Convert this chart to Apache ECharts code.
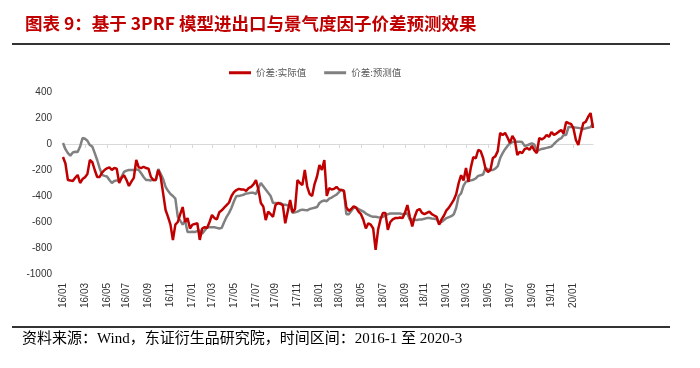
<!DOCTYPE html>
<html><head><meta charset="utf-8">
<script src="https://cdn.jsdelivr.net/npm/echarts@6/dist/echarts.min.js"></script>
<style>html,body{margin:0;padding:0;background:#fff}#c{width:700px;height:368px}</style>
</head><body><div id="c"></div>
<script>
const startDate = '2016-01-01';
const actual = [-100,-150,-277,-280,-285,-260,-238,-300,-270,-255,-230,-123,-140,-200,-254,-254,-220,-200,-187,-180,
-200,-185,-190,-300,-260,-240,-277,-323,-290,-260,-123,-180,-185,-175,-185,-190,-254,-277,-277,-200,
-254,-380,-508,-560,-620,-738,-620,-600,-540,-485,-600,-570,-650,-620,-615,-610,-738,-650,-640,-646,
-600,-546,-570,-580,-525,-510,-490,-470,-450,-400,-370,-354,-345,-350,-350,-360,-340,-330,-310,-277,
-350,-454,-480,-585,-520,-540,-560,-470,-454,-460,-470,-610,-520,-430,-525,-500,-277,-300,-315,-200,
-330,-385,-400,-308,-250,-162,-200,-123,-400,-340,-350,-345,-330,-350,-355,-360,-485,-515,-500,-480,
-490,-520,-540,-585,-650,-610,-620,-650,-815,-660,-580,-530,-530,-660,-600,-580,-570,-570,-565,-570,
-530,-470,-560,-635,-560,-510,-500,-530,-540,-530,-520,-540,-550,-560,-620,-580,-550,-510,-490,-460,
-430,-385,-300,-240,-280,-185,-290,-180,-100,-110,-46,-55,-108,-190,-215,-200,-108,-95,-55,85,
70,85,50,8,62,30,-85,-60,-70,-40,-31,-45,-15,-50,-70,46,35,46,70,55,
92,70,80,95,108,80,170,160,155,120,31,-8,80,160,170,208,238,123];
const predicted = [8,-40,-70,-90,-65,-60,-62,-20,46,40,25,-8,-20,-70,-123,-185,-238,-245,-250,-277,
-300,-285,-280,-285,-250,-215,-205,-200,-200,-200,-195,-200,-225,-254,-277,-277,-280,-275,-277,-192,
-230,-270,-330,-360,-385,-400,-420,-560,-590,-620,-590,-677,-677,-675,-677,-670,-665,-690,-665,-640,
-640,-640,-640,-645,-650,-645,-600,-560,-530,-490,-440,-400,-400,-395,-390,-380,-378,-375,-375,-385,
-340,-300,-325,-350,-375,-400,-454,-454,-455,-454,-465,-468,-472,-480,-530,-525,-520,-510,-505,-508,
-510,-500,-495,-490,-485,-454,-440,-435,-440,-420,-412,-400,-390,-370,-350,-360,-540,-540,-515,-490,
-490,-500,-510,-520,-535,-545,-555,-560,-560,-563,-565,-560,-550,-540,-535,-535,-535,-535,-535,-540,
-537,-535,-580,-580,-583,-585,-580,-580,-575,-570,-570,-573,-575,-580,-610,-600,-585,-570,-563,-555,
-540,-490,-400,-380,-320,-290,-285,-280,-275,-265,-245,-240,-235,-185,-195,-200,-200,-190,-170,-108,
-70,-40,-15,5,15,17,18,18,15,-15,-10,-2,5,-5,-54,-45,-38,-34,-30,-25,
-20,0,18,35,45,70,70,131,130,128,126,124,120,115,120,125,130,160];
const seriesNames = ['价差:实际值', '价差:预测值'];
const yTicks = [-1000, -800, -600, -400, -200, 0, 200, 400];

// weekly category dates
const dates = [];
{
  const d0 = new Date(startDate + 'T00:00:00Z');
  for (let i = 0; i < actual.length; i++) {
    const d = new Date(d0.getTime() + i * 7 * 86400000);
    const y = String(d.getUTCFullYear()).slice(2);
    const m = String(d.getUTCMonth() + 1).padStart(2, '0');
    dates.push(y + '/' + m + '/' + String(d.getUTCDate()).padStart(2,'0'));
  }
}
function isLabelIdx(i) {
  const m = +dates[i].split('/')[1];
  if (m % 2 !== 1) return false;
  if (i === 0) return true;
  return dates[i-1].split('/')[1] !== dates[i].split('/')[1];
}

const chart = echarts.init(document.getElementById('c'), null, {renderer: 'canvas'});
chart.setOption({
  animation: false,
  backgroundColor: '#fff',
  title: {
    text: '图表 9：基于 3PRF 模型进出口与景气度因子价差预测效果',
    left: 20, top: 10,
    textStyle: {fontFamily: '"Noto Sans CJK SC", "Liberation Sans"', fontSize: 17.5, fontWeight: 'bold', color: '#C00000'}
  },
  legend: {
    data: seriesNames,
    left: 224, top: 63,
    itemWidth: 22, itemHeight: 3, itemGap: 18,
    icon: 'rect',
    textStyle: {fontFamily: '"Noto Sans CJK SC", "Liberation Sans"', fontSize: 9.5, color: '#595959'}
  },
  grid: {left: 63, right: 107, top: 92, bottom: 94},
  xAxis: [{
    type: 'category', data: dates, boundaryGap: false,
    axisLine: {onZero: true, lineStyle: {color: '#d9d9d9', width: 1}},
    axisTick: {show: true, interval: (i) => isLabelIdx(i), length: 4, lineStyle: {color: '#d9d9d9'}},
    axisLabel: {show: false}
  }, {
    type: 'category', data: dates, boundaryGap: false, position: 'bottom',
    axisLine: {show: false, onZero: false}, axisTick: {show: false},
    axisLabel: {
      interval: (i) => isLabelIdx(i), rotate: 90, margin: 9,
      formatter: (v) => v.slice(0, 5),
      fontFamily: '"Liberation Sans", Arial', fontSize: 10, color: '#333'
    }
  }],
  yAxis: {
    type: 'value', min: -1000, max: 400, interval: 200,
    axisLine: {show: false}, axisTick: {show: false}, splitLine: {show: false},
    axisLabel: {fontFamily: '"Liberation Sans", Arial', fontSize: 10, color: '#333', margin: 11,
      formatter: (v) => yTicks.includes(v) ? String(v) : ''}
  },
  series: [{
    name: seriesNames[0], type: 'line', data: actual, xAxisIndex: 0,
    showSymbol: false, symbol: 'none', z: 3,
    lineStyle: {color: '#C00000', width: 2.5}, itemStyle: {color: '#C00000'}
  }, {
    name: seriesNames[1], type: 'line', data: predicted, xAxisIndex: 0,
    showSymbol: false, symbol: 'none', z: 2,
    lineStyle: {color: '#808080', width: 2.5}, itemStyle: {color: '#808080'}
  }],
  graphic: [
    {type: 'line', shape: {x1: 12, y1: 44, x2: 670, y2: 44}, style: {stroke: '#333', lineWidth: 2}},
    {type: 'line', shape: {x1: 12, y1: 327, x2: 670, y2: 327}, style: {stroke: '#333', lineWidth: 2}},
    {type: 'text', left: 22, top: 332,
      style: {text: '资料来源：Wind，东证衍生品研究院，时间区间：2016-1 至 2020-3',
        font: '15px "Liberation Serif", "Noto Sans CJK SC"', fill: '#000'}}
  ]
});
</script></body></html>
